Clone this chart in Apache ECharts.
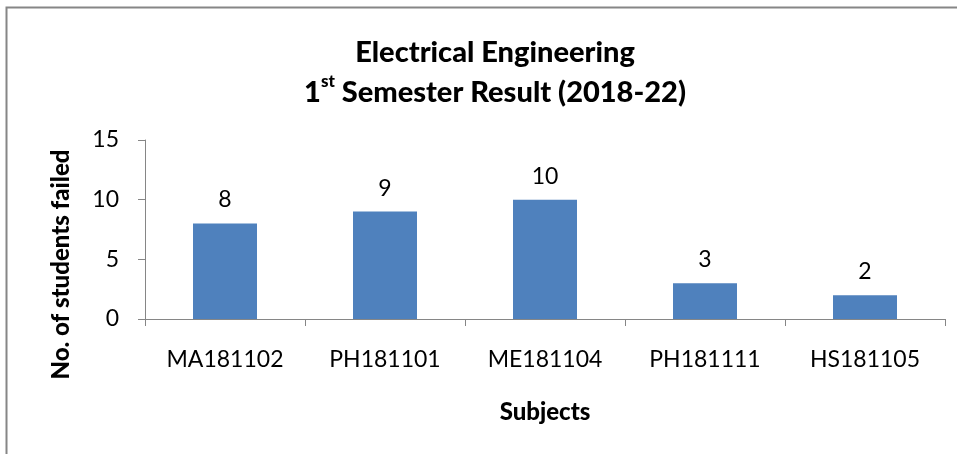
<!DOCTYPE html>
<html>
<head>
<meta charset="utf-8">
<script src="https://cdn.jsdelivr.net/npm/echarts@6/dist/echarts.min.js"></script>
<style>
  html, body { margin: 0; padding: 0; background: #fff; }
  #main { width: 957px; height: 454px; }
</style>
</head>
<body>
<div id="main"></div>
<script>
// subjects and failed counts
var subjects = ["MA181102", "PH181101", "ME181104", "PH181111", "HS181105"];
var failed = [8, 9, 10, 3, 2];
var yTicks = [0, 5, 10, 15];

var font = "Lato, 'Open Sans', sans-serif";
var chart = echarts.init(document.getElementById("main"));

chart.setOption({
  animation: false,
  textStyle: { fontFamily: font },
  title: {
    text: "{t|Electrical Engineering}\n{t|1}{s|st}{t| Semester Result (2018-22)}",
    left: 490,
    top: 28,
    textAlign: "center",
    textStyle: {
      rich: {
        t: { fontSize: 29, fontWeight: 900, color: "#000", fontFamily: font, lineHeight: 40 },
        s: { fontSize: 17, fontWeight: 900, color: "#000", fontFamily: font, verticalAlign: "top", lineHeight: 40, padding: [0, 0, 2, 0] }
      }
    }
  },
  graphic: [
    {
      type: "rect",
      shape: { x: 6.5, y: 7.5, width: 1000, height: 1000 },
      style: { fill: "none", stroke: "#868686", lineWidth: 2 },
      silent: true
    }
  ],
  grid: { left: 145, right: 12, top: 140, bottom: 135 },
  xAxis: {
    type: "category",
    data: subjects,
    name: "Subjects",
    nameLocation: "middle",
    nameGap: 81,
    nameTextStyle: { fontSize: 24, fontWeight: 900, color: "#000", fontFamily: font },
    axisLine: { lineStyle: { color: "#868686", width: 1 } },
    axisTick: { show: true, alignWithLabel: false, length: 7, lineStyle: { color: "#868686" } },
    axisLabel: { fontSize: 23, color: "#000", margin: 29, fontFamily: font }
  },
  yAxis: {
    type: "value",
    min: yTicks[0],
    max: yTicks[yTicks.length - 1],
    interval: 5,
    name: "No. of students failed",
    nameLocation: "middle",
    nameGap: 72,
    nameRotate: 90,
    nameTextStyle: { fontSize: 24, fontWeight: 900, color: "#000", fontFamily: font, padding: [0, 70, 0, 0] },
    axisLine: { show: true, lineStyle: { color: "#868686", width: 1 } },
    axisTick: { show: true, length: 7, lineStyle: { color: "#868686" } },
    splitLine: { show: false },
    axisLabel: { fontSize: 23, color: "#000", margin: 26, fontFamily: font }
  },
  series: [
    {
      type: "bar",
      data: failed,
      barWidth: "40%",
      itemStyle: { color: "#4F81BD" },
      label: {
        show: true,
        position: "top",
        distance: 12,
        fontSize: 23,
        color: "#000",
        fontFamily: font
      }
    }
  ]
});
</script>
</body>
</html>
